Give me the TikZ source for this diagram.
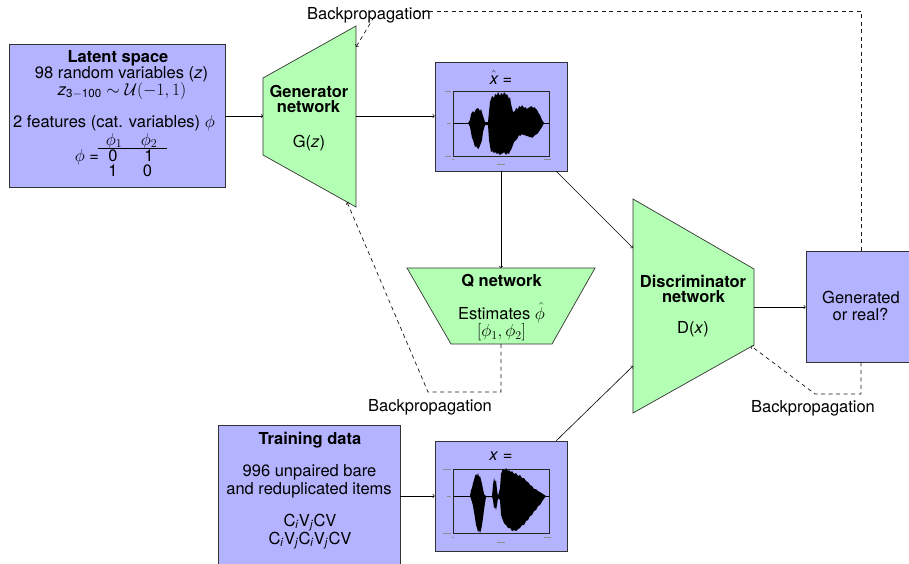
\documentclass[tikz,border=0pt]{standalone}
\usepackage{fontspec}
\setmainfont{TeX Gyre Heros}
\usetikzlibrary{calc}
\definecolor{boxblue}{HTML}{B3B3FF}
\definecolor{boxgreen}{HTML}{B3FFB3}
\begin{document}
\begin{tikzpicture}[x=1pt,y=-1pt,
  box/.style={draw=black!80, fill=boxblue, line width=0.7pt, inner sep=0pt},
  net/.style={draw=black!80, fill=boxgreen, line width=0.7pt},
  conn/.style={->, line width=0.6pt, black},
  bp/.style={dash pattern=on 4pt off 3.5pt, line width=0.7pt, black!90},
  txt/.style={font=\fontsize{16.5}{19}\selectfont, anchor=base, inner sep=0pt},
  btxt/.style={font=\fontsize{16.5}{19}\selectfont\bfseries, anchor=base, inner sep=0pt},
  tick/.style={draw=black!45, line width=0.8pt}]
\useasboundingbox (0,0) rectangle (909,563);

% ---------- boxes ----------
\node[box, minimum width=216pt, minimum height=143pt] (latent) at (117,115.5) {};
\node[box, minimum width=132pt, minimum height=109pt] (xhat) at (501,116.5) {};
\node[box, minimum width=132pt, minimum height=110pt] (xreal) at (501,496) {};
\node[box, minimum width=182pt, minimum height=150pt] (train) at (309,500) {};
\node[box, minimum width=110pt, minimum height=111pt] (gr) at (861,306.5) {};

% ---------- networks ----------
\draw[net] (263,78) -- (356,26) -- (356,207) -- (263,155) -- cycle;
\draw[net] (407,268) -- (595,268) -- (552,344) -- (451,344) -- cycle;
\draw[net] (633,199) -- (754,269) -- (754,345) -- (633,413) -- cycle;
\coordinate (genL) at (263,116);
\coordinate (genR) at (356,116);
\coordinate (genTR) at (356,47);
\coordinate (genBR) at (347,202);
\coordinate (qT) at (501,268);
\coordinate (qB) at (501,344);
\coordinate (dL1) at (633,248);
\coordinate (dL2) at (633,366);
\coordinate (dR) at (754,307);
\coordinate (dRB) at (751,346);

% ---------- latent text ----------
\node[btxt] (lt1) at (118,62) {Latent space};
\node[txt] (lt2) at (121.5,78.5) {98 random variables (\textit{z})};
\node[txt] (lt3) at (122,95) {\textit{z}\textsubscript{3$-$100} $\sim\mathcal{U}(-1,1)$};
\node[txt] (lt4) at (114,127) {2 features (cat. variables) $\phi$};
\node[txt] (m11) at (114,145) {$\phi_1$};
\node[txt] (m12) at (149,145) {$\phi_2$};
\coordinate (ruleL) at (97.5,148.5);
\coordinate (ruleR) at (166.5,148.5);
\draw[line width=0.6pt] (ruleL) -- (ruleR);
\node[txt] (meq) at (87,161) {$\phi$ =};
\node[txt] (m21) at (113,161) {0};
\node[txt] (m22) at (149,161) {1};
\node[txt] (m31) at (113,176.5) {1};
\node[txt] (m32) at (147.5,176.5) {0};

% ---------- network text ----------
\node[btxt] (g1) at (309,97.5) {Generator};
\node[btxt] (g2) at (308.5,112) {network};
\node[txt] (g3) at (309,147.5) {G(\textit{z})};
\node[btxt] (q1) at (501.5,286.5) {Q network};
\node[txt] (q2) at (501.5,319) {Estimates $\hat{\phi}$};
\node[txt] (q3) at (501.5,336.5) {$[\phi_1,\phi_2]$};
\node[btxt] (d1) at (693,287) {Discriminator};
\node[btxt] (d2) at (693.5,302) {network};
\node[txt] (d3) at (693,333) {D(\textit{x})};
\node[txt] (gr1) at (861,303) {Generated};
\node[txt] (gr2) at (860.5,320.5) {or real?};

% ---------- training text ----------
\node[btxt] (t1) at (310,444) {Training data};
\node[txt] (t2) at (309.5,476) {996 unpaired bare};
\node[txt] (t3) at (309,494) {and reduplicated items};
\node[txt] (t4) at (310,526) {C\textsubscript{\textit{i}}V\textsubscript{\textit{j}}CV};
\node[txt] (t5) at (310,544) {C\textsubscript{\textit{i}}V\textsubscript{\textit{j}}C\textsubscript{\textit{i}}V\textsubscript{\textit{j}}CV};

% ---------- xhat plot ----------
\node[txt] (xh) at (501,84) {$\hat{\textit{x}}$ =};
\draw[line width=0.6pt, black!85] (453,91) rectangle (549,156);
\draw[black, line width=1.2pt] (453,123.5) -- (549,123.5);
\fill[black] (468,123) -- (470,120) -- (471,114) -- (473,111) -- (474,113) -- (476,109) -- (478,108) -- (480,111) -- (481,109) -- (483,116) -- (485,122) -- (488,122) -- (489,112) -- (490,102) -- (492,96) -- (494,98) -- (495,94) -- (497,95) -- (498,92) -- (500,96) -- (501,93) -- (503,95) -- (504,92) -- (506,95) -- (507,94) -- (509,99) -- (510,97) -- (511,104) -- (513,112) -- (515,111) -- (516,108) -- (518,109) -- (519,106) -- (521,107) -- (522,105) -- (524,108) -- (525,107) -- (527,109) -- (528,108) -- (530,107) -- (531,106) -- (533,108) -- (534,107) -- (536,109) -- (537,110) -- (539,114) -- (540,115) -- (542,120) -- (544,123)
 -- (542,127) -- (540,130) -- (538,133) -- (537,134) -- (535,135) -- (534,136) -- (532,138) -- (531,137) -- (529,137) -- (528,136) -- (526,136) -- (525,135) -- (523,135) -- (522,134) -- (520,136) -- (519,135) -- (517,139) -- (516,140) -- (514,142) -- (513,145) -- (511,150) -- (510,151) -- (509,154) -- (507,153) -- (506,155) -- (504,152) -- (503,153) -- (501,154) -- (500,155) -- (498,153) -- (497,154) -- (495,152) -- (494,153) -- (492,151) -- (491,152) -- (490,146) -- (489,140) -- (488,125) -- (485,125) -- (483,132) -- (482,140) -- (481,143) -- (479,148) -- (478,149) -- (476,146) -- (475,147) -- (473,140) -- (472,138) -- (470,127) -- cycle;
\draw[tick] (445,91) -- (451,91);
\draw[tick] (447,123.5) -- (451,123.5);
\draw[tick] (445,156) -- (451,156);
\draw[tick] (452,159) -- (454,159);
\draw[tick] (544,159) -- (551,159);
\draw[tick] (497,164) -- (505,164);

% ---------- x plot ----------
\node[txt] (xr) at (501,460) {\textit{x} =};
\draw[line width=0.6pt, black!85] (453,469) rectangle (549,533);
\draw[black, line width=1.2pt] (453,496.5) -- (549,496.5);
\fill[black] (470,496) -- (471,490) -- (472,488) -- (473,483) -- (474,480) -- (475,476) -- (476,474) -- (477,476) -- (478,473) -- (479,477) -- (480,476) -- (481,480) -- (482,484) -- (483,489) -- (484,494) -- (486,496) -- (492,496) -- (493,485) -- (494,478) -- (495,482) -- (496,480) -- (497,490) -- (498,496) -- (500,488) -- (501,474) -- (502,471) -- (503,469) -- (505,470) -- (506,468) -- (508,471) -- (509,470) -- (511,472) -- (512,471) -- (514,474) -- (516,473) -- (518,476) -- (520,475) -- (522,478) -- (524,478) -- (526,481) -- (528,482) -- (530,485) -- (532,486) -- (534,489) -- (536,489) -- (538,491) -- (540,492) -- (543,494) -- (546,496)
 -- (543,500) -- (540,505) -- (538,506) -- (536,510) -- (534,511) -- (532,515) -- (530,516) -- (528,520) -- (526,521) -- (524,525) -- (522,525) -- (520,528) -- (518,529) -- (516,531) -- (514,530) -- (512,531) -- (510,528) -- (508,528) -- (506,525) -- (504,523) -- (502,518) -- (501,515) -- (500,500) -- (498,498) -- (497,505) -- (496,510) -- (495,507) -- (494,508) -- (493,500) -- (492,497) -- (486,497) -- (485,503) -- (484,510) -- (483,518) -- (482,525) -- (481,530) -- (480,533) -- (479,530) -- (478,532) -- (477,528) -- (476,525) -- (475,518) -- (474,512) -- (473,506) -- (472,502) -- cycle;
\draw[tick] (443,469) -- (451,469);
\draw[tick] (447,496.5) -- (451,496.5);
\draw[tick] (443,533) -- (451,533);
\draw[tick] (452,537) -- (454,537);
\draw[tick] (544,537) -- (551,537);
\draw[tick] (497,542) -- (505,542);

% ---------- connectors ----------
\draw[conn] (latent.east |- genL) -- (genL);
\draw[conn] (genR) -- (xhat.west |- genR);
\draw[conn] (xhat.south) -- (qT);
\draw[conn] ($(xhat.south east)+(-11,0)$) -- (dL1);
\draw[conn] ($(xreal.north east)+(-11,0)$) -- (dL2);
\draw[conn] (dR) -- (gr.west |- dR);
\draw[conn] (train.east |- xreal.west) -- (xreal.west);

% ---------- backpropagation ----------
\coordinate (bpTop) at (410,11);
\coordinate (bpTopB) at (374,17);
\draw[bp] (gr.north) |- (bpTop);
\node[txt] (bpl1) at (369,19) {Backpropagation};
\draw[bp, ->] (bpTopB) -- (genTR);

\coordinate (bpQ1) at (501,392);
\coordinate (bpQ2) at (428,392);
\draw[bp, ->] (qB) -- (bpQ1) -- (bpQ2) -- (genBR);
\node[txt] (bpl2) at (430,411) {Backpropagation};

\coordinate (bpR1) at (861,394);
\coordinate (bpR2) at (815,394);
\draw[bp, ->] (gr.south) -- (bpR1) -- (bpR2) -- (dRB);
\node[txt] (bpl3) at (813,412) {Backpropagation};
\end{tikzpicture}
\end{document}
